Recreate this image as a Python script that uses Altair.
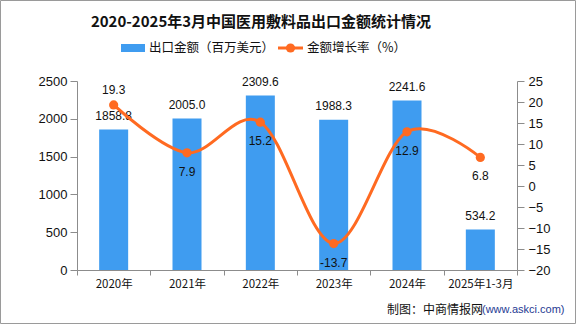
import altair as alt
import pandas as pd

years = ["2020年", "2021年", "2022年", "2023年", "2024年", "2025年1-3月"]
export_values = [1858.8, 2005.0, 2309.6, 1988.3, 2241.6, 534.2]
growth_rates = [19.3, 7.9, 15.2, -13.7, 12.9, 6.8]
rate_label_above = [True, False, False, False, False, False]
left_ticks = [0, 500, 1000, 1500, 2000, 2500]
right_ticks = [-20, -15, -10, -5, 0, 5, 10, 15, 20, 25]

df = pd.DataFrame({
    "year": years,
    "value": export_values,
    "rate": growth_rates,
    "above": rate_label_above,
})
df["value_label"] = [f"{v:.1f}" for v in export_values]
df["rate_label"] = [f"{v:.1f}" for v in growth_rates]

BAR = "#3F9CF0"
LINE = "#FF6A21"
AXIS = "#8C8C8C"
NUMFONT = "Liberation Sans"
CJK = "Noto Sans CJK SC"

W, H = 440, 189

x_enc = alt.X(
    "year:N", sort=years,
    scale=alt.Scale(paddingInner=0, paddingOuter=0),
    axis=alt.Axis(title=None, labelAngle=0, tickBand="extent", domain=True, ticks=True,
                  domainColor=AXIS, domainWidth=1, tickColor=AXIS, tickWidth=1,
                  tickSize=5, labelPadding=3, labelFontSize=11.5,
                  labelFont=CJK, labelColor="#111"),
)

y_left = alt.Y(
    "value:Q",
    scale=alt.Scale(domain=[0, 2500], nice=False),
    axis=alt.Axis(title=None, orient="left", values=left_ticks, grid=False, format="d",
                  domain=True, ticks=True, domainWidth=1, tickWidth=1,
                  domainColor=AXIS, tickColor=AXIS, tickSize=7, labelPadding=3,
                  labelFontSize=13, labelFont=NUMFONT, labelColor="#111"),
)
y_right = alt.Y(
    "rate:Q",
    scale=alt.Scale(domain=[-20, 25], nice=False),
    axis=alt.Axis(title=None, orient="right", values=right_ticks, grid=False,
                  domain=True, ticks=True, domainWidth=1, tickWidth=1,
                  domainColor=AXIS, tickColor=AXIS, tickSize=7, labelPadding=4,
                  labelFontSize=13, labelFont=NUMFONT, labelColor="#111"),
)

base = alt.Chart(df)

bars = base.mark_bar(size=29, color=BAR).encode(x=x_enc, y=y_left)
bar_text = base.mark_text(dy=-9.5, baseline="alphabetic", fontSize=12, font=NUMFONT,
                          color="#111").encode(x=x_enc, y=y_left, text="value_label:N")

line = base.mark_line(interpolate="cardinal", color=LINE, strokeWidth=3).encode(x=x_enc, y=y_right)
pts = base.mark_circle(size=85, color=LINE, opacity=1).encode(x=x_enc, y=y_right)
rate_above = base.transform_filter("datum.above").mark_text(
    dy=-10.5, baseline="alphabetic", fontSize=12, font=NUMFONT, color="#111"
).encode(x=x_enc, y=y_right, text="rate_label:N")
rate_below = base.transform_filter("!datum.above").mark_text(
    dy=23, baseline="alphabetic", fontSize=12, font=NUMFONT, color="#111"
).encode(x=x_enc, y=y_right, text="rate_label:N")

left_layer = alt.layer(bars, bar_text)
right_layer = alt.layer(line, pts, rate_above, rate_below)

one = pd.DataFrame({"k": [0]})
deco = alt.Chart(one)

title = deco.mark_text(fontSize=15, fontWeight="bold", font=CJK, color="#111",
                       align="center", baseline="middle").encode(
    x=alt.value(184), y=alt.value(-59),
    text=alt.value("2020-2025年3月中国医用敷料品出口金额统计情况"))

leg_rect = deco.mark_rect(color=BAR).encode(
    x=alt.value(44), x2=alt.value(68), y=alt.value(-37), y2=alt.value(-29))
leg_text1 = deco.mark_text(fontSize=12.5, font=CJK, color="#111", align="left",
                           baseline="middle").encode(
    x=alt.value(72), y=alt.value(-33), text=alt.value("出口金额（百万美元）"))
leg_line = deco.mark_rule(color=LINE, strokeWidth=3).encode(
    x=alt.value(201), x2=alt.value(226), y=alt.value(-33))
leg_dot = deco.mark_circle(color=LINE, size=85, opacity=1).encode(
    x=alt.value(213.5), y=alt.value(-33))
leg_text2 = deco.mark_text(fontSize=12.5, font=CJK, color="#111", align="left",
                           baseline="middle").encode(
    x=alt.value(230), y=alt.value(-33), text=alt.value("金额增长率（%）"))

foot1 = deco.mark_text(fontSize=12, font=CJK, color="#111", align="left",
                       baseline="middle").encode(
    x=alt.value(310), y=alt.value(229), text=alt.value("制图：中商情报网"))
foot2 = deco.mark_text(fontSize=11, font=NUMFONT, color="#1F3A93", align="left",
                       baseline="middle").encode(
    x=alt.value(405), y=alt.value(229), text=alt.value("(www.askci.com)"))

border = deco.mark_rect(fill=None, stroke="#9A9A9A", strokeWidth=1, fillOpacity=0).encode(
    x=alt.value(-76.5), x2=alt.value(498.5), y=alt.value(-80.5), y2=alt.value(242.5))

main = alt.layer(left_layer, right_layer).resolve_scale(y="independent")

chart = alt.layer(
    main,
    title, leg_rect, leg_text1, leg_line, leg_dot, leg_text2, foot1, foot2, border,
).properties(
    width=W, height=H,
    autosize=alt.AutoSizeParams(type="none"),
    padding={"left": 77, "top": 81, "right": 59, "bottom": 54},
    background="white",
).configure_view(stroke=None)

chart.save("out.html", embed_options={"renderer": "svg", "actions": False})
